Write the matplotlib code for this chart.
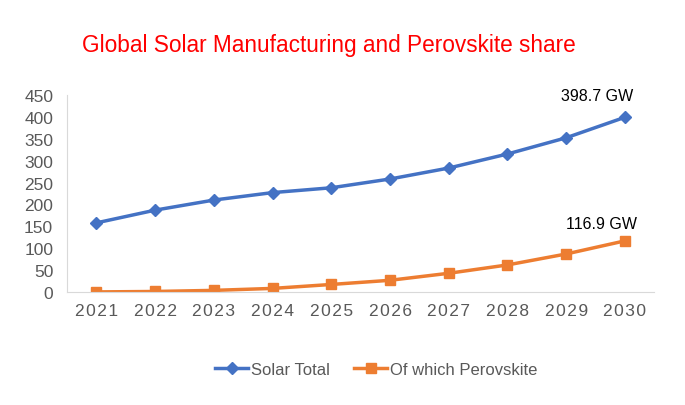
import matplotlib.pyplot as plt
import numpy as np

plt.rcParams['font.family'] = ['Liberation Sans', 'DejaVu Sans']

years = ['2021', '2022', '2023', '2024', '2025', '2026', '2027', '2028', '2029', '2030']
solar_total = [158, 187, 210, 227, 238, 258, 283, 315, 352, 398.7]
perovskite = [0.5, 1.5, 4, 8.5, 17.5, 27, 43, 62, 87, 116.9]

fig = plt.figure(figsize=(6.85, 4.06), dpi=100)
ax = fig.add_axes([0.098, 0.278, 0.857, 0.486])

x = np.arange(len(years))
ax.plot(x, solar_total, color='#4472C4', lw=2.5, marker='D', ms=6, label='Solar Total')
ax.plot(x, perovskite, color='#ED7D31', lw=2.5, marker='s', ms=7, label='Of which Perovskite')

ax.set_xlim(-0.5, len(years) - 0.5)
ax.set_ylim(0, 450)
ax.set_yticks(np.arange(0, 451, 50))
ax.set_xticks(x)
# letter-spaced year labels, like the original
ax.set_xticklabels(['\u200a'.join(y) for y in years])

for s in ['top', 'right']:
    ax.spines[s].set_visible(False)
for s in ['left', 'bottom']:
    ax.spines[s].set_color('#D9D9D9')
ax.tick_params(axis='both', length=0, colors='#595959')
ax.tick_params(axis='y', labelsize=12.5, pad=10)
ax.tick_params(axis='x', labelsize=12.5, pad=8)

ax.annotate('%.1f GW' % solar_total[-1], (x[-1], solar_total[-1]), xytext=(-20, 16),
            textcoords='offset points', ha='center', va='center', fontsize=11.5, color='black')
ax.annotate('%.1f GW' % perovskite[-1], (x[-1], perovskite[-1]), xytext=(-17, 12.5),
            textcoords='offset points', ha='center', va='center', fontsize=11.5, color='black')

fig.text(0.48, 0.889, 'Global Solar Manufacturing and Perovskite share', color='#FF0000',
         fontsize=16.3, ha='center', va='center')

fig.legend(loc='center', bbox_to_anchor=(0.549, 0.088), ncol=2, frameon=False, fontsize=12,
           labelcolor='#595959', handlelength=2.0, handletextpad=0.15, columnspacing=1.45)

fig.savefig('out.png', dpi=100)
